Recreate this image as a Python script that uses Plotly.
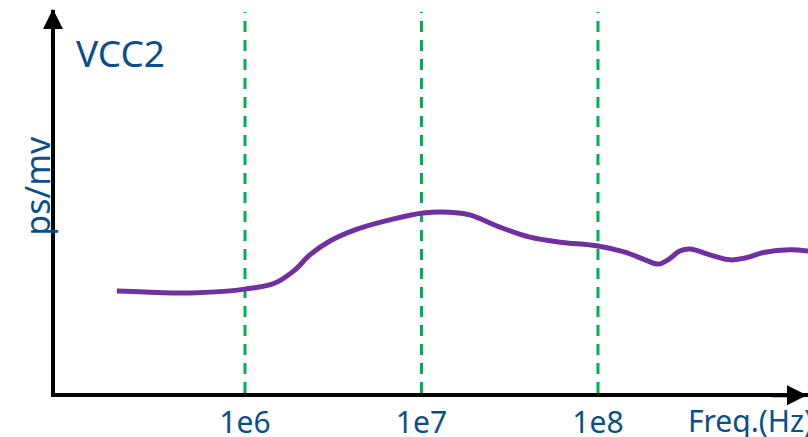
import plotly.graph_objects as go

# Data
freq_hz = [1.88e5, 2.71e5, 4.88e5, 1.0e6, 1.48e6, 1.92e6, 2.33e6, 3.03e6, 4.2e6, 6.6e6,
           1.02e7, 1.45e7, 1.88e7, 2.78e7, 4.12e7, 6.1e7, 1.0e8, 1.42e8, 1.85e8, 2.19e8,
           2.49e8, 2.91e8, 3.32e8, 4.31e8, 5.6e8, 6.81e8, 8.84e8, 1.22e9, 1.55e9]
ps_per_mv = [27.0, 26.75, 26.5, 27.5, 29.1, 32.5, 36.4, 40.0, 42.9, 45.5,
             47.3, 47.5, 46.8, 43.6, 41.0, 39.7, 38.7, 37.1, 35.1, 34.0,
             35.1, 37.4, 37.9, 36.4, 35.1, 35.6, 37.1, 37.7, 37.4]
marker_freqs = [1e6, 1e7, 1e8]
tick_labels = ["1e6", "1e7", "1e8"]

BLUE = "#0b4f8a"
FONT = "Noto Sans"

fig = go.Figure()
fig.add_trace(go.Scatter(
    x=freq_hz, y=ps_per_mv, mode="lines",
    line=dict(color="#7030a0", width=5, shape="spline", smoothing=1.0),
    hoverinfo="skip", showlegend=False,
))

for f in marker_freqs:
    fig.add_shape(type="line", xref="x", yref="paper", x0=f, x1=f, y0=0, y1=0.995,
                  line=dict(color="#00b050", width=3, dash="11px,8px"), layer="below")

fig.update_layout(
    width=808, height=437,
    margin=dict(l=55, r=0, t=10, b=44, autoexpand=False),
    paper_bgcolor="white", plot_bgcolor="white",
    xaxis=dict(type="log", range=[4.9235, 9.19], showgrid=False, zeroline=False,
               automargin=False,
               showline=True, linecolor="black", linewidth=4,
               tickvals=marker_freqs, ticktext=tick_labels, ticks="",
               tickfont=dict(family=FONT, size=30, color=BLUE)),
    yaxis=dict(range=[0.52, 100], showgrid=False, zeroline=False, showticklabels=False,
               automargin=False,
               showline=True, linecolor="black", linewidth=4, ticks=""),
    annotations=[
        dict(xref="paper", yref="paper", x=-0.0027, y=1.0026, ax=0, ay=40,
             text="", showarrow=True, arrowhead=2, arrowsize=1, arrowwidth=4, arrowcolor="black"),
        dict(xref="paper", yref="paper", x=1.003, y=-0.006, ax=-40, ay=0,
             text="", showarrow=True, arrowhead=2, arrowsize=1, arrowwidth=4, arrowcolor="black"),
        dict(xref="paper", yref="paper", x=0.0252, y=0.888, xanchor="left", yanchor="middle",
             text="VCC2", showarrow=False, font=dict(family=FONT, size=37, color=BLUE)),
        dict(xref="paper", yref="paper", x=-0.0235, y=0.542, xanchor="center", yanchor="middle",
             text="ps/mv", textangle=-90, showarrow=False, font=dict(family=FONT, size=34, color=BLUE)),
        dict(xref="paper", yref="paper", x=0.838, y=-0.0731, xanchor="left", yanchor="middle",
             text="Freq.(Hz)", showarrow=False, font=dict(family=FONT, size=30, color=BLUE)),
    ],
)

fig.write_html("out.html", config={"displayModeBar": False},
               post_script="document.body.style.margin='0px';")
